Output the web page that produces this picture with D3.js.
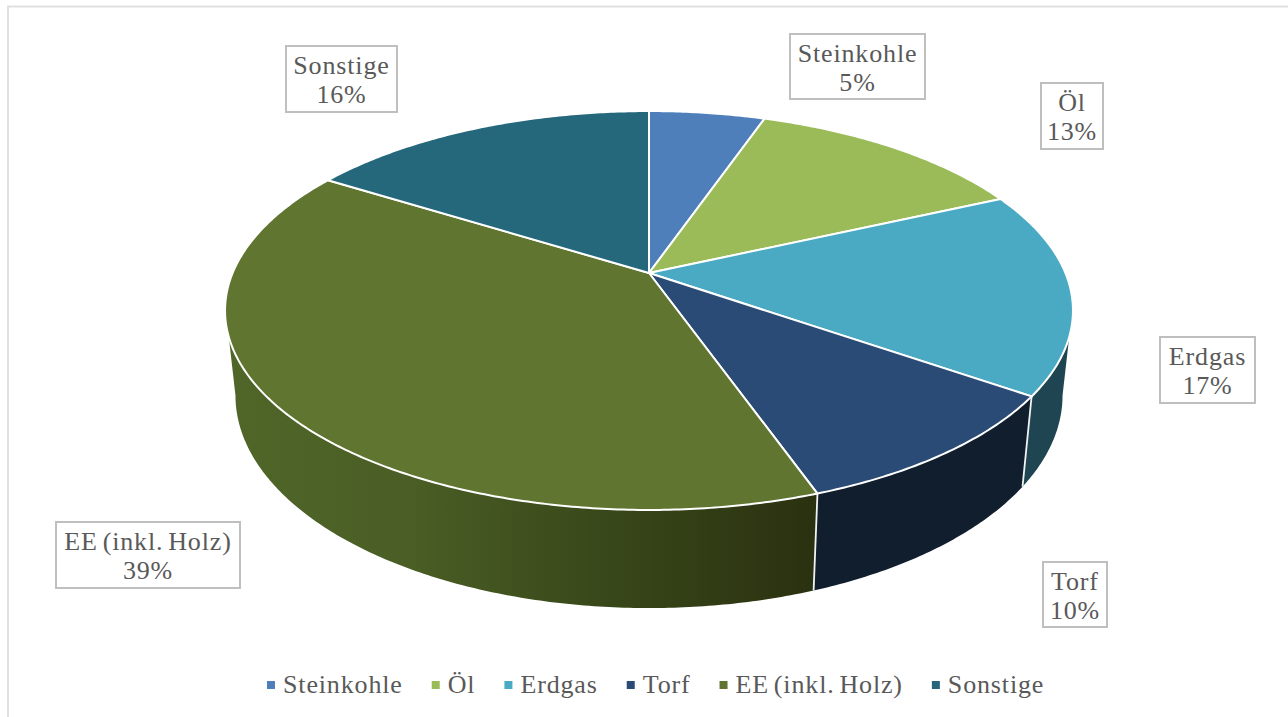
<!DOCTYPE html>
<html><head><meta charset="utf-8">
<script src="https://cdn.jsdelivr.net/npm/d3@7/dist/d3.min.js"></script>
<style>html,body{margin:0;padding:0;background:#fff;overflow:hidden}svg{display:block}text{font-family:"Liberation Serif",serif;fill:#595959;word-spacing:-2.5px}</style>
</head><body><svg id="c" width="1288" height="717"></svg>
<script>
const categories = ["Steinkohle","Öl","Erdgas","Torf","EE (inkl. Holz)","Sonstige"];
const shares = [5.3,12.9,16.5,9.9,39.3,16.1];
const topColors = ["#4f7fba","#9bbb59","#4aaac4","#2a4b76","#607630","#25687c"];
const wallColors = ["#2f4c70","#5d7035","#1e4551","#111e2e","url(#eeWall)","#163e4a"];
const labelBoxes = [[790,34,135,65],[1041,83,62,66],[1160,337,95,66],[1043,562,64,65],[56,522,184,66],[286,46,111,66]];

const W=1288,H=717,FS=26,LS=0.85;
const svg=d3.select("#c");
const defs=svg.append("defs");
const g=defs.append("linearGradient").attr("id","eeWall").attr("gradientUnits","userSpaceOnUse")
  .attr("x1",230).attr("x2",815).attr("y1",0).attr("y2",0);
[[0,"#506628"],[0.3,"#4a5e25"],[0.65,"#384719"],[1,"#2a3110"]].forEach(s=>g.append("stop").attr("offset",s[0]).attr("stop-color",s[1]));

// frame
svg.append("path").attr("d",`M8 717V6.5H1288`).attr("fill","none").attr("stroke","#e0e0e0").attr("stroke-width",2);

// perspective projection of the pie's top and bottom discs
const CX=649;
const topDisc={a:416.4,b:192.4,k:0.188,y:273};
const botDisc={a:406,b:205,k:0.19,y:355};
function proj(disc,t){const X=Math.sin(t),Y=-Math.cos(t),w=1-disc.k*Y;return [CX+disc.a*X/w,disc.y+disc.b*Y/w];}
function arcPts(disc,a0,a1){const n=Math.max(2,Math.ceil(Math.abs(a1-a0)/0.01));return d3.range(n+1).map(i=>proj(disc,a0+(a1-a0)*i/n));}
const line=d3.line();
const arcs=d3.pie().sort(null).value(d=>d)(shares);
const color=d3.scaleOrdinal(categories,topColors);
const wall=d3.scaleOrdinal(categories,wallColors);
const VIS_TOP=108.2*Math.PI/180,VIS_BOT=101*Math.PI/180,TAU=2*Math.PI;

// side walls
const walls=svg.append("g");
arcs.forEach((d,i)=>{
  const a0=Math.max(d.startAngle,VIS_TOP),a1=Math.min(d.endAngle,TAU-VIS_TOP);
  if(a1<=a0)return;
  const b0=Math.max(d.startAngle,VIS_BOT),b1=Math.min(d.endAngle,TAU-VIS_BOT);
  const pts=arcPts(topDisc,a0,a1).concat(arcPts(botDisc,b1,b0));
  walls.append("path").attr("d",line(pts)+"Z").attr("fill",wall(categories[i]));
});
arcs.forEach(d=>{
  const t=d.startAngle;
  if(t>VIS_TOP&&t<TAU-VIS_TOP) walls.append("path").attr("d",line([proj(topDisc,t),proj(botDisc,t)])).attr("stroke","#f2f2f2").attr("stroke-width",1.8).attr("fill","none");
});
// top slices
const tops=svg.append("g");
arcs.forEach((d,i)=>{
  const pts=[[CX,topDisc.y]].concat(arcPts(topDisc,d.startAngle,d.endAngle));
  tops.append("path").attr("d",line(pts)+"Z").attr("fill",color(categories[i])).attr("stroke","#fff").attr("stroke-width",2).attr("stroke-linejoin","round");
});

// data labels
const labels=svg.append("g");
arcs.forEach((d,i)=>{
  const [x,y,w,h]=labelBoxes[i];
  labels.append("rect").attr("x",x).attr("y",y).attr("width",w).attr("height",h).attr("fill","#fff").attr("stroke","#bfbfbf").attr("stroke-width",2);
  const t=labels.append("text").attr("text-anchor","middle").style("font-size",FS+"px").style("letter-spacing",LS+"px");
  t.append("tspan").attr("x",x+w/2).attr("y",y+28).text(categories[i]);
  t.append("tspan").attr("x",x+w/2).attr("y",y+57).text(Math.round(d.value)+"%");
});

// legend
const legend=svg.append("g");
let lx=267;
categories.forEach((c,i)=>{
  legend.append("rect").attr("x",lx).attr("y",681).attr("width",8).attr("height",8).attr("fill",color(c));
  const t=legend.append("text").attr("x",lx+16).attr("y",693).style("font-size",FS+"px").style("letter-spacing",LS+"px").text(c);
  lx+=16+t.node().getComputedTextLength()+29;
});
</script></body></html>
